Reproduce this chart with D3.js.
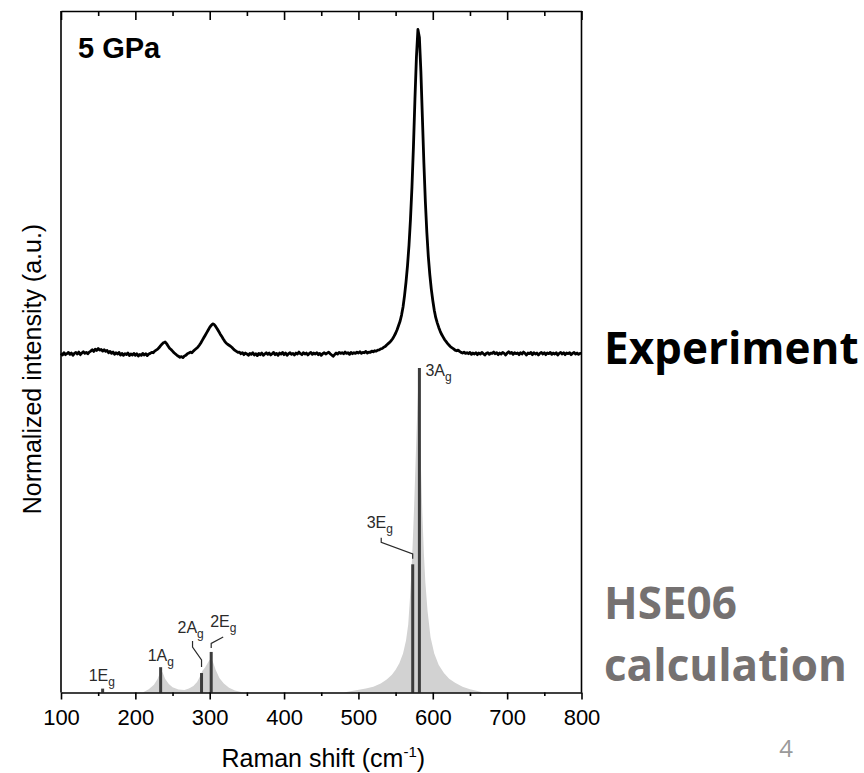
<!DOCTYPE html>
<html>
<head>
<meta charset="utf-8">
<script src="https://cdn.jsdelivr.net/npm/d3@7"></script>
<style>
  body { margin: 0; background: #fff; }
  text { font-family: "Liberation Sans", Arial, sans-serif; }
  .side { font-family: "Open Sans", "Noto Sans", sans-serif; font-weight: bold; }
</style>
</head>
<body>
<script>
// experimental spectrum, sampled every 2 cm-1 from 100 cm-1 (normalized, before offset)
const expStart = 100;
const expStep = 2;
const expY = [
  .002,-.003,.004,-.002,.001,.005,-.001,.003,-.004,.002,
  .005,.000,.006,-.002,.003,.007,.002,.005,.001,.006,
  .009,.013,.008,.015,.011,.017,.012,.014,.009,.013,
  .008,.011,.004,.008,.002,.006,-.001,.004,.000,.005,
  -.003,.002,-.004,.001,-.002,.003,-.005,.000,-.003,.002,
  -.004,.001,-.006,-.001,-.004,.002,-.003,.001,-.005,.000,
  .002,.005,.004,.009,.012,.015,.020,.026,.031,.035,
  .037,.032,.025,.018,.014,.009,.004,.000,-.004,-.007,
  -.010,-.008,-.011,-.006,-.004,.001,.003,.006,.004,.009,
  .013,.017,.021,.027,.034,.042,.050,.058,.066,.074,
  .082,.088,.093,.091,.085,.078,.070,.062,.055,.047,
  .040,.034,.030,.027,.024,.020,.015,.011,.008,.005,
  .006,.001,.004,-.002,.003,.000,-.004,.002,-.001,.004,
  -.003,.001,-.005,.002,-.002,.003,-.004,.000,.004,-.001,
  .003,-.003,.001,.005,-.002,.002,-.004,.003,.000,.005,
  -.002,.003,-.004,.001,.004,-.001,.002,-.003,.003,.000,
  .006,.001,-.002,.004,.000,.003,-.003,.002,.005,-.001,
  .003,.000,.004,-.002,.002,-.004,.001,.004,.000,.003,
  .006,.001,-.003,-.007,-.002,.003,.000,.005,.002,.004,
  .001,.006,.002,.004,-.001,.005,.001,.004,.002,.006,
  .003,.007,.002,.005,.004,.008,.003,.006,.005,.009,
  .007,.010,.009,.012,.013,.016,.017,.021,.023,.028,
  .032,.036,.041,.047,.055,.064,.075,.088,.101,.120,
  .145,.180,.222,.272,.335,.415,.515,.640,.785,.915,
  1.000,.975,.870,.730,.590,.470,.375,.300,.245,.200,
  .165,.135,.112,.096,.082,.070,.060,.052,.044,.038,
  .032,.027,.022,.019,.016,.012,.010,.012,.008,.005,
  .003,.006,.002,.004,.001,.005,-.001,.003,.000,.004,
  -.002,.003,.000,.005,.001,-.003,.002,.004,-.001,.003,
  .002,.006,.001,.004,-.002,.003,.000,.005,.002,-.003,
  .003,.007,.002,.005,-.001,.004,.001,.003,-.002,.004,
  .000,.006,.002,-.003,.003,.001,.005,-.002,.004,.000,
  .003,-.003,.002,.005,.000,.004,-.002,.003,.001,.005,
  -.001,.003,.000,.004,-.003,.002,.005,.000,.004,-.002,
  .003,.001,.004,-.002,.002,.005,.000,.003,-.001,.002,
  .002
];
const expOffset = 1.043;

// broadened calculated spectrum (grey envelope): [cm-1, intensity]
const calcEnvelope = [
  [210,0],[218,0.01],[225,0.024],[230,0.042],[233,0.06],[235,0.068],[237,0.06],[240,0.042],[245,0.026],
  [250,0.016],[258,0.009],[266,0.008],[272,0.012],[278,0.02],[283,0.032],[287,0.05],[290,0.066],
  [294,0.078],[298,0.094],[301,0.104],[304,0.096],[308,0.07],[313,0.045],[319,0.028],[326,0.015],
  [334,0.006],[345,0],
  [480,0],[495,0.006],[510,0.012],[520,0.018],[530,0.028],[538,0.04],[545,0.055],[550,0.07],[555,0.09],
  [560,0.12],[564,0.16],[567,0.21],[569,0.28],[571,0.36],[573,0.46],[575,0.58],[577,0.72],[579,0.86],
  [580.5,0.95],[582,0.86],[584,0.7],[586,0.55],[588,0.43],[590,0.34],[593,0.25],[597,0.17],[602,0.12],
  [608,0.085],[615,0.06],[622,0.042],[630,0.03],[640,0.018],[650,0.01],[660,0.005],[668,0]
];

// calculated Raman modes
const modeNames = ['1E', '1A', '2A', '2E', '3E', '3A'];
const modeSubs = ['g', 'g', 'g', 'g', 'g', 'g'];
const modePos = [156, 234, 289, 302, 573, 582];
const modeInt = [0.012, 0.078, 0.06, 0.125, 0.395, 1.0];

const xMajor = [100, 200, 300, 400, 500, 600, 700, 800];
const xMinor = [150, 250, 350, 450, 550, 650, 750];

const W = 864, H = 773;
const x = d3.scaleLinear().domain([100, 800]).range([61, 581.5]);
const y = d3.scaleLinear().domain([0, 2.1]).range([692.5, 11]);

const svg = d3.select('body').append('svg')
  .attr('width', W)
  .attr('height', H);

// envelope
svg.append('path')
  .datum(calcEnvelope)
  .attr('fill', '#d2d2d2')
  .attr('d', d3.area().x(d => x(d[0])).y0(y(0)).y1(d => y(d[1])));

// mode sticks
const modes = modePos.map((p, i) => ({ name: modeNames[i], sub: modeSubs[i], pos: p, val: modeInt[i] }));
svg.selectAll('line.stick')
  .data(modes)
  .enter()
  .append('line')
  .attr('class', 'stick')
  .attr('x1', d => x(d.pos)).attr('x2', d => x(d.pos))
  .attr('y1', y(0)).attr('y2', d => y(d.val))
  .attr('stroke', '#3c3c3c')
  .attr('stroke-width', 3);

// label placement relative to stick top: text offset and optional leader line
const labelLayout = [
  { dx: -14, dy: -8 },
  { dx: -13, dy: -6 },
  { dx: -24, dy: -40, lead: [[-9, -32], [-9, -26], [0, -13], [0, -6]] },
  { dx: -1, dy: -25, lead: [[12, -15], [0, -8.5], [0, -4]] },
  { dx: -46, dy: -36, lead: [[-31.5, -26.5], [-31.5, -22], [0, -10.5], [0, -5.5]] },
  { dx: 6, dy: 8 }
];
modes.forEach((m, i) => {
  const bx = x(m.pos), by = y(m.val), L = labelLayout[i];
  const t = svg.append('text')
    .attr('x', bx + L.dx)
    .attr('y', by + L.dy)
    .attr('font-size', 16)
    .attr('fill', '#2a2a2a');
  t.append('tspan').text(m.name);
  t.append('tspan').attr('font-size', 12).attr('dy', 5).text(m.sub);
  if (L.lead) {
    svg.append('path')
      .attr('d', d3.line()(L.lead.map(p => [bx + p[0], by + p[1]])))
      .attr('fill', 'none')
      .attr('stroke', '#2a2a2a')
      .attr('stroke-width', 1.2);
  }
});

// experiment line
svg.append('path')
  .datum(expY)
  .attr('fill', 'none')
  .attr('stroke', '#000')
  .attr('stroke-width', 2.8)
  .attr('stroke-linejoin', 'round')
  .attr('d', d3.line().x((d, i) => x(expStart + i * expStep)).y(d => y(d + expOffset)));

// axes
const axB = svg.append('g').attr('transform', 'translate(0,' + y(0) + ')')
  .call(d3.axisBottom(x).tickValues(xMajor).tickSizeInner(7).tickSizeOuter(0).tickPadding(10));
svg.append('g').attr('transform', 'translate(0,' + y(0) + ')')
  .call(d3.axisBottom(x).tickValues(xMinor).tickSize(3.5).tickFormat(''))
  .select('.domain').remove();
axB.selectAll('text').attr('font-size', 22).attr('fill', '#000')
  .style('font-family', '"Liberation Sans", Arial, sans-serif');

svg.append('g').attr('transform', 'translate(0,' + y(2.1) + ')')
  .call(d3.axisTop(x).tickValues(xMajor).tickSizeInner(-9).tickSizeOuter(0).tickFormat(''));
svg.append('g').attr('transform', 'translate(0,' + y(2.1) + ')')
  .call(d3.axisTop(x).tickValues(xMinor).tickSize(-5).tickFormat(''))
  .select('.domain').remove();

svg.selectAll('.domain, .tick line').attr('stroke', '#000').attr('stroke-width', 1.6);

svg.append('line').attr('x1', x(100)).attr('x2', x(100)).attr('y1', y(0)).attr('y2', y(2.1))
  .attr('stroke', '#000').attr('stroke-width', 1.6);
svg.append('line').attr('x1', x(800)).attr('x2', x(800)).attr('y1', y(0)).attr('y2', y(2.1))
  .attr('stroke', '#000').attr('stroke-width', 1.6);

// titles
const xt = svg.append('text')
  .attr('x', (x(100) + x(800)) / 2 + 2)
  .attr('y', 767)
  .attr('text-anchor', 'middle')
  .attr('font-size', 25);
xt.append('tspan').text('Raman shift (cm');
xt.append('tspan').attr('font-size', 15).attr('dy', -10).text('-1');
xt.append('tspan').attr('dy', 10).text(')');

svg.append('text')
  .attr('transform', 'translate(41,' + 369 + ') rotate(-90)')
  .attr('text-anchor', 'middle')
  .attr('font-size', 25)
  .text('Normalized intensity (a.u.)');

svg.append('text')
  .attr('x', 78).attr('y', 58)
  .attr('font-size', 29)
  .attr('font-weight', 'bold')
  .text('5 GPa');

svg.append('text').attr('class', 'side')
  .attr('x', 604).attr('y', 364)
  .attr('font-size', 44)
  .attr('fill', '#000')
  .text('Experiment');
svg.append('text').attr('class', 'side')
  .attr('x', 604).attr('y', 619)
  .attr('font-size', 44)
  .attr('fill', '#757171')
  .text('HSE06');
svg.append('text').attr('class', 'side')
  .attr('x', 604).attr('y', 681)
  .attr('font-size', 44)
  .attr('fill', '#757171')
  .text('calculation');

svg.append('text')
  .attr('x', 786).attr('y', 757)
  .attr('text-anchor', 'middle')
  .attr('font-size', 24)
  .attr('fill', '#9a9a9a')
  .style('font-family', '"Open Sans", sans-serif')
  .text('4');
</script>
</body>
</html>
